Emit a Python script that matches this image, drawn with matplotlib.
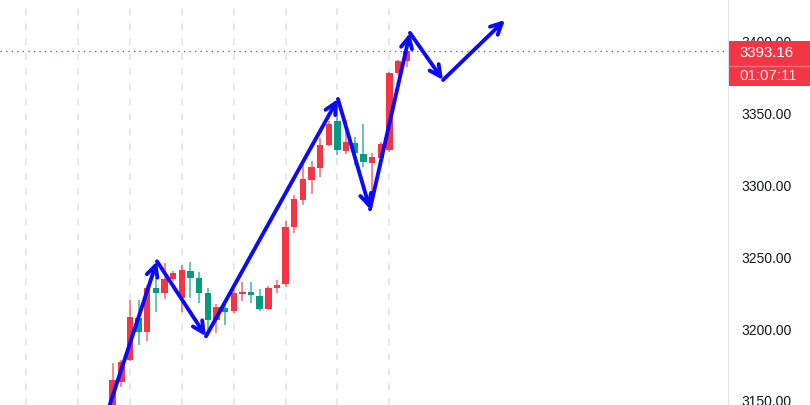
import matplotlib
matplotlib.use('Agg')
import matplotlib.pyplot as plt
from matplotlib.patches import Rectangle
from matplotlib.transforms import blended_transform_factory

# candle data, oldest first
opens = [3140.0, 3162.6, 3178.0, 3207.3, 3197.1, 3227.8, 3224.5, 3234.2, 3220.8, 3239.8,
         3234.7, 3224.3, 3205.6, 3214.3, 3211.9, 3223.8, 3224.9, 3222.6, 3213.3, 3228.2,
         3230.5, 3270.1, 3289.3, 3303.1, 3311.4, 3327.7, 3344.0, 3323.1, 3328.9, 3321.2,
         3314.9, 3318.4, 3324.2, 3377.7, 3385.8]
closes = [3163.6, 3176.6, 3207.7, 3197.1, 3228.2, 3224.8, 3234.2, 3238.5, 3240.3, 3235.2,
          3224.3, 3205.6, 3214.7, 3211.0, 3224.3, 3225.5, 3223.0, 3213.3, 3228.2, 3230.0,
          3270.5, 3290.0, 3304.0, 3311.9, 3327.7, 3342.1, 3324.2, 3329.6, 3321.9, 3315.6,
          3318.9, 3328.2, 3377.7, 3385.8, 3393.16]
highs = [3175.5, 3178.0, 3219.9, 3219.9, 3230.0, 3234.7, 3245.4, 3240.0, 3244.0, 3245.9,
         3238.9, 3227.8, 3216.6, 3217.3, 3226.6, 3232.4, 3232.4, 3227.3, 3229.5, 3233.5,
         3274.7, 3292.4, 3313.3, 3316.5, 3332.4, 3344.0, 3355.6, 3345.1, 3332.8, 3342.1,
         3321.9, 3329.5, 3378.5, 3387.0, 3394.0]
lows = [3138.0, 3158.7, 3176.8, 3188.2, 3191.0, 3211.0, 3220.3, 3233.0, 3211.0, 3221.3,
        3217.3, 3197.6, 3196.4, 3202.0, 3210.3, 3218.9, 3217.3, 3211.9, 3212.5, 3224.3,
        3229.0, 3266.3, 3285.8, 3293.3, 3305.4, 3326.6, 3320.7, 3321.2, 3313.3, 3311.9,
        3288.2, 3316.0, 3322.6, 3376.0, 3382.0]

last_price = 3393.16
countdown = '01:07:11'

# hand drawn zigzag (bar index, price)
path_x = [-0.7, 5.12, 10.79, 26.05, 29.76, 34.38, 38.2, 45.37]
path_y = [3140, 3246.6, 3194.3, 3359.6, 3282.8, 3405.6, 3372.8, 3414.6]

grid_bars = [-10, -4, 2, 8, 14, 20, 26, 32]
yticks = [3150, 3200, 3250, 3300, 3350, 3400]

up_col = '#f23645'
down_col = '#089981'

W, H = 810, 406
fig = plt.figure(figsize=(W / 100, H / 100), dpi=100)
ax = fig.add_axes([0, 0, 728 / W, 1])
ax.set_xlim(-13.03, 71.16)
ymin, ymax = 3146.5, 3429.2
ax.set_ylim(ymin, ymax)

for g in grid_bars:
    ax.axvline(g, color='#e0e3eb', lw=1.2, ls=(0, (4, 5)), zorder=0)

for i in range(len(opens)):
    o, c = opens[i], closes[i]
    col = up_col if c >= o else down_col
    ax.vlines(i, lows[i], highs[i], color=col, lw=1.3, alpha=0.65, zorder=2)
    ax.add_patch(Rectangle((i - 0.37, min(o, c)), 0.74, max(abs(c - o), 0.4),
                           facecolor=col, edgecolor='none', zorder=3))

ax.axhline(last_price, color=up_col, lw=1, ls=(0, (1, 3)), zorder=1)

for k in range(len(path_x) - 1):
    ax.annotate('', xy=(path_x[k + 1], path_y[k + 1]), xytext=(path_x[k], path_y[k]),
                arrowprops=dict(arrowstyle='->', color='#0b0bf5', lw=2.8,
                                mutation_scale=20, shrinkA=0, shrinkB=0),
                zorder=5, annotation_clip=False)

for s in ['top', 'left', 'bottom']:
    ax.spines[s].set_visible(False)
ax.spines['right'].set_color('#e0e3eb')
ax.set_xticks([])
ax.yaxis.tick_right()
ax.set_yticks(yticks)
ax.set_yticklabels(['%.2f' % v for v in yticks], fontfamily='Liberation Sans',
                   fontsize=10, color='#131722')
ax.tick_params(axis='y', length=0, pad=10)

# price tag on the scale
ppu = H / (ymax - ymin)
tr = blended_transform_factory(fig.transFigure, ax.transData)
x0 = 729 / W
top = last_price + 10 / ppu
mid = last_price - 15 / ppu
bot = last_price - 35 / ppu
ax.add_patch(Rectangle((x0, mid), 1 - x0, top - mid, transform=tr, facecolor=up_col,
                       edgecolor='none', clip_on=False, zorder=10))
ax.add_patch(Rectangle((x0, bot), 1 - x0, mid - bot, transform=tr, facecolor=up_col,
                       edgecolor='none', clip_on=False, zorder=10))
ax.plot([x0, 1], [mid, mid], transform=tr, color='#f5707a', lw=1, clip_on=False, zorder=11)
ax.text(739 / W, last_price - 1.5 / ppu, '%.2f' % last_price, transform=tr, color='white',
        fontsize=10.8, fontfamily='Liberation Sans', va='center', ha='left', zorder=12)
ax.text(739 / W, last_price - 24 / ppu, countdown, transform=tr, color='#fde2e4',
        fontsize=10.8, fontfamily='Liberation Sans', va='center', ha='left', zorder=12)

fig.savefig('out.png', dpi=100)
